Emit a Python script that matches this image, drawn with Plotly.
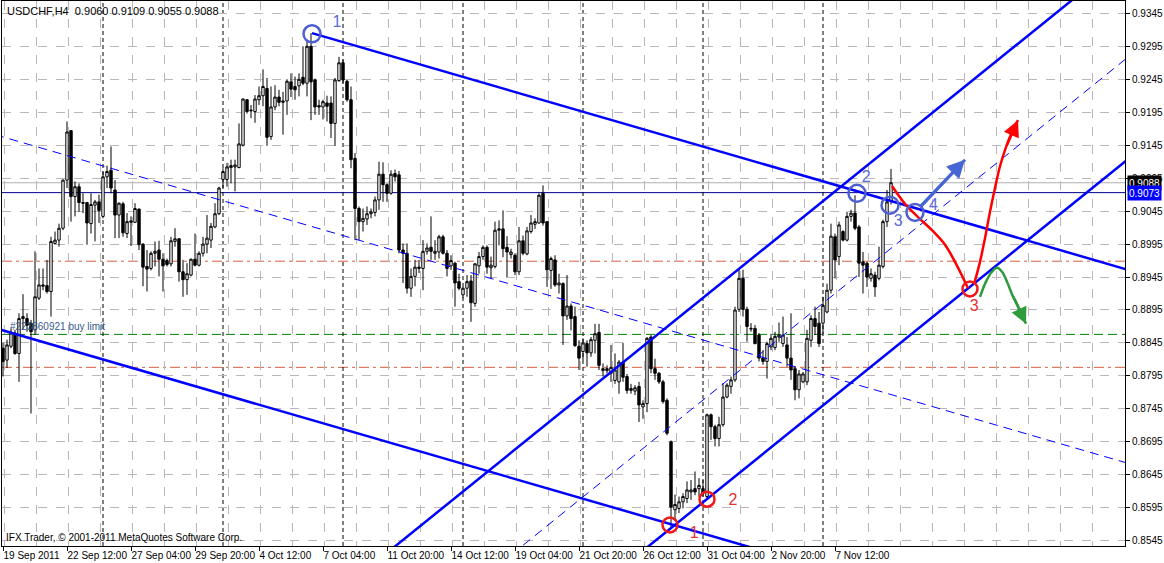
import plotly.graph_objects as go

# ---------------- data ----------------
title_text = "USDCHF,H4  0.9060 0.9109 0.9055 0.9088"
copyright_text = "IFX Trader, © 2001-2011 MetaQuotes Software Corp."
order_text = "#223860921 buy limit"

open_ = [0.8837,0.8819,0.8840,0.8860,0.8829,0.8882,0.8882,0.8875,0.8865,0.8913,
         0.8931,0.8932,0.8923,0.8996,0.9001,0.9019,0.9092,0.9167,0.9067,0.9082,
         0.9058,0.9058,0.9026,0.9054,0.9059,0.9037,0.9097,0.9107,0.9077,0.9039,
         0.9056,0.9011,0.9028,0.9028,0.9048,0.8995,0.8961,0.8958,0.8981,0.8986,
         0.8972,0.8970,0.8965,0.8999,0.9003,0.8953,0.8941,0.8948,0.8972,0.8963,
         0.8981,0.8995,0.9001,0.9021,0.9041,0.9093,0.9093,0.9111,0.9112,0.9111,
         0.9145,0.9214,0.9197,0.9196,0.9214,0.9220,0.9231,0.9158,0.9203,0.9218,
         0.9210,0.9212,0.9241,0.9234,0.9235,0.9248,0.9239,0.9295,0.9244,0.9205,
         0.9203,0.9209,0.9209,0.9178,0.9243,0.9270,0.9242,0.9214,0.9125,0.9049,
         0.9029,0.9033,0.9041,0.9043,0.9062,0.9101,0.9085,0.9072,0.9102,0.9100,
         0.8986,0.8981,0.8928,0.8946,0.8958,0.8958,0.8984,0.8990,0.8981,0.8983,
         0.9006,0.8981,0.8962,0.8966,0.8938,0.8918,0.8928,0.8939,0.8905,0.8962,
         0.8976,0.8990,0.8959,0.8961,0.9016,0.9018,0.8990,0.8979,0.8978,0.8953,
         0.9000,0.8980,0.9014,0.9025,0.9027,0.9072,0.9029,0.8955,0.8971,0.8933,
         0.8935,0.8886,0.8901,0.8885,0.8840,0.8832,0.8844,0.8830,0.8849,0.8861,
         0.8803,0.8803,0.8799,0.8788,0.8786,0.8816,0.8794,0.8773,0.8772,0.8779,
         0.8748,0.8753,0.8854,0.8806,0.8799,0.8786,0.8758,0.8695,0.8592,0.8594,
         0.8604,0.8609,0.8619,0.8624,0.8624,0.8624,0.8612,0.8736,0.8718,0.8700,
         0.8721,0.8763,0.8779,0.8789,0.8896,0.8943,0.8896,0.8866,0.8867,0.8857,
         0.8822,0.8817,0.8839,0.8838,0.8854,0.8844,0.8842,0.8822,0.8806,0.8774,
         0.8786,0.8786,0.8849,0.8882,0.8875,0.8875,0.8892,0.8925,0.9006,0.8976,
         0.9014,0.9001,0.9037,0.9042,0.9021,0.8968,0.8966,0.8943,0.8948,0.8943,
         0.8961,0.9029,0.9060]
high = [0.8845,0.8850,0.8867,0.8865,0.8890,0.8919,0.8890,0.8880,0.8984,0.8958,
        0.8958,0.8971,0.9006,0.9014,0.9026,0.9093,0.9181,0.9168,0.9090,0.9087,
        0.9072,0.9059,0.9072,0.9062,0.9070,0.9105,0.9114,0.9143,0.9092,0.9058,
        0.9059,0.9042,0.9037,0.9057,0.9049,0.8996,0.8986,0.8984,0.8999,0.9000,
        0.8981,0.8973,0.9006,0.9019,0.9004,0.8971,0.8966,0.8973,0.9011,0.8984,
        0.9006,0.9039,0.9027,0.9057,0.9082,0.9110,0.9118,0.9123,0.9123,0.9178,
        0.9216,0.9215,0.9206,0.9221,0.9234,0.9260,0.9247,0.9234,0.9236,0.9229,
        0.9226,0.9245,0.9254,0.9249,0.9254,0.9295,0.9305,0.9315,0.9246,0.9214,
        0.9214,0.9220,0.9219,0.9247,0.9279,0.9275,0.9244,0.9234,0.9133,0.9052,
        0.9049,0.9052,0.9049,0.9067,0.9120,0.9119,0.9087,0.9107,0.9108,0.9106,
        0.8996,0.8996,0.8958,0.8971,0.8971,0.9001,0.8996,0.9037,0.9001,0.9009,
        0.9009,0.8986,0.8978,0.8968,0.8950,0.8930,0.8948,0.8948,0.8966,0.8983,
        0.8993,0.8993,0.8976,0.9029,0.9031,0.9046,0.9007,0.8988,0.8981,0.9021,
        0.9008,0.9021,0.9039,0.9034,0.9072,0.9084,0.9030,0.8976,0.8978,0.8950,
        0.8937,0.8948,0.8905,0.8900,0.8849,0.8852,0.8849,0.8854,0.8874,0.8874,
        0.8814,0.8811,0.8842,0.8829,0.8819,0.8845,0.8798,0.8783,0.8781,0.8786,
        0.8758,0.8854,0.8857,0.8821,0.8801,0.8789,0.8761,0.8697,0.8615,0.8612,
        0.8617,0.8635,0.8637,0.8650,0.8640,0.8637,0.8738,0.8738,0.8721,0.8733,
        0.8784,0.8784,0.8794,0.8900,0.8958,0.8956,0.8900,0.8875,0.8872,0.8860,
        0.8834,0.8847,0.8859,0.8862,0.8876,0.8885,0.8854,0.8890,0.8809,0.8804,
        0.8801,0.8865,0.8887,0.8900,0.8892,0.8915,0.8935,0.9026,0.9011,0.9029,
        0.9016,0.9044,0.9047,0.9069,0.9024,0.8983,0.8968,0.8958,0.8953,0.8991,
        0.9032,0.9077,0.9109]
low = [0.8794,0.8807,0.8837,0.8827,0.8786,0.8865,0.8862,0.8738,0.8857,0.8910,
       0.8925,0.8920,0.8885,0.8994,0.8991,0.9016,0.9080,0.9029,0.9037,0.9044,
       0.9042,0.8994,0.9011,0.8999,0.9027,0.9034,0.9080,0.9072,0.9004,0.9004,
       0.9006,0.9004,0.8992,0.9027,0.8986,0.8931,0.8923,0.8955,0.8961,0.8946,
       0.8923,0.8961,0.8961,0.8991,0.8938,0.8915,0.8918,0.8946,0.8961,0.8961,
       0.8976,0.8981,0.8989,0.9019,0.9039,0.9080,0.9082,0.9087,0.9075,0.9110,
       0.9143,0.9193,0.9186,0.9179,0.9206,0.9204,0.9144,0.9153,0.9198,0.9204,
       0.9161,0.9191,0.9218,0.9214,0.9219,0.9236,0.9219,0.9183,0.9191,0.9191,
       0.9184,0.9181,0.9156,0.9144,0.9241,0.9239,0.9211,0.9110,0.9001,0.9001,
       0.9014,0.9024,0.9034,0.9037,0.9047,0.9059,0.9059,0.9070,0.9090,0.8981,
       0.8936,0.8920,0.8915,0.8931,0.8951,0.8925,0.8979,0.8971,0.8971,0.8973,
       0.8979,0.8946,0.8956,0.8900,0.8925,0.8913,0.8915,0.8877,0.8900,0.8950,
       0.8971,0.8950,0.8943,0.8958,0.8993,0.8975,0.8945,0.8973,0.8948,0.8948,
       0.8978,0.8978,0.9011,0.9018,0.9026,0.9023,0.8930,0.8927,0.8930,0.8920,
       0.8842,0.8880,0.8864,0.8839,0.8804,0.8819,0.8809,0.8824,0.8829,0.8804,
       0.8794,0.8799,0.8786,0.8783,0.8768,0.8786,0.8768,0.8768,0.8766,0.8725,
       0.8730,0.8740,0.8799,0.8789,0.8783,0.8753,0.8705,0.8566,0.8575,0.8587,
       0.8594,0.8602,0.8607,0.8614,0.8612,0.8612,0.8607,0.8698,0.8688,0.8688,
       0.8718,0.8761,0.8768,0.8786,0.8892,0.8885,0.8847,0.8862,0.8843,0.8817,
       0.8812,0.8791,0.8834,0.8834,0.8847,0.8839,0.8809,0.8789,0.8758,0.8761,
       0.8784,0.8781,0.8839,0.8857,0.8839,0.8859,0.8890,0.8920,0.8943,0.8963,
       0.8999,0.8999,0.9029,0.9016,0.8945,0.8920,0.8930,0.8938,0.8915,0.8940,
       0.8958,0.9021,0.9055]
close = [0.8817,0.8842,0.8860,0.8829,0.8882,0.8885,0.8872,0.8862,0.8915,0.8933,
         0.8933,0.8923,0.8999,0.9001,0.9019,0.9092,0.9165,0.9067,0.9082,0.9058,
         0.9057,0.9027,0.9055,0.9059,0.9046,0.9097,0.9105,0.9080,0.9039,0.9057,
         0.9012,0.9029,0.9030,0.9049,0.8994,0.8960,0.8957,0.8981,0.8984,0.8972,
         0.8962,0.8964,0.9000,0.9003,0.8953,0.8941,0.8950,0.8972,0.8963,0.8981,
         0.8995,0.9004,0.9022,0.9041,0.9080,0.9105,0.9112,0.9114,0.9115,0.9147,
         0.9215,0.9196,0.9198,0.9215,0.9220,0.9234,0.9157,0.9203,0.9218,0.9210,
         0.9212,0.9242,0.9230,0.9229,0.9245,0.9239,0.9295,0.9241,0.9203,0.9203,
         0.9211,0.9204,0.9178,0.9244,0.9270,0.9244,0.9214,0.9123,0.9049,0.9029,
         0.9034,0.9041,0.9044,0.9062,0.9101,0.9085,0.9072,0.9101,0.9097,0.8986,
         0.8981,0.8928,0.8946,0.8960,0.8960,0.8984,0.8989,0.8984,0.8984,0.9006,
         0.8981,0.8958,0.8970,0.8936,0.8928,0.8928,0.8938,0.8906,0.8965,0.8976,
         0.8990,0.8960,0.8963,0.9016,0.9018,0.8988,0.8983,0.8983,0.8953,0.9000,
         0.8981,0.9015,0.9027,0.9029,0.9069,0.9027,0.8956,0.8973,0.8933,0.8936,
         0.8886,0.8901,0.8882,0.8841,0.8822,0.8845,0.8830,0.8850,0.8859,0.8811,
         0.8806,0.8806,0.8808,0.8804,0.8816,0.8793,0.8773,0.8776,0.8777,0.8751,
         0.8753,0.8852,0.8806,0.8799,0.8786,0.8756,0.8708,0.8596,0.8600,0.8604,
         0.8612,0.8622,0.8622,0.8619,0.8629,0.8617,0.8736,0.8718,0.8700,0.8721,
         0.8763,0.8781,0.8789,0.8895,0.8943,0.8896,0.8870,0.8867,0.8844,0.8822,
         0.8817,0.8844,0.8852,0.8855,0.8857,0.8857,0.8822,0.8804,0.8774,0.8798,
         0.8798,0.8852,0.8882,0.8870,0.8844,0.8902,0.8925,0.9007,0.8971,0.9024,
         0.9001,0.9037,0.9042,0.9019,0.8966,0.8963,0.8945,0.8950,0.8930,0.8963,
         0.9029,0.9059,0.9088]
bars = list(range(len(open_)))

x_tick_bars = [0, 16, 32, 48, 64, 80, 96, 112, 128, 144, 160, 176, 192, 208]
x_tick_labels = ["19 Sep 2011", "22 Sep 12:00", "27 Sep 04:00", "29 Sep 20:00",
                 "4 Oct 12:00", "7 Oct 04:00", "11 Oct 20:00", "14 Oct 12:00",
                 "19 Oct 04:00", "21 Oct 20:00", "26 Oct 12:00", "31 Oct 04:00",
                 "2 Nov 20:00", "7 Nov 12:00"]
y_tick_values = [0.8545, 0.8595, 0.8645, 0.8695, 0.8745, 0.8795, 0.8845, 0.8895,
                 0.8945, 0.8995, 0.9045, 0.9095, 0.9145, 0.9195, 0.9245, 0.9295, 0.9345]
y_tick_labels = ["0.8545", "0.8595", "0.8645", "0.8695", "0.8745", "0.8795", "0.8845",
                 "0.8895", "0.8945", "0.8995", "0.9045", "0.9095", "0.9145", "0.9195",
                 "0.9245", "0.9295", "0.9345"]
week_separator_bars = [25, 55, 85, 115, 145, 175, 205]

bid_price = 0.9088
blue_level = 0.9073
buy_limit_price = 0.8858
stop_levels = [0.8969, 0.8808]

# descending channel (anchor = swing high 1)
desc_anchor_bar, desc_anchor_price = 77.25, 0.9315
desc_slope = -0.000176
desc_width = 0.0587
# rising channel
rise_anchor_bar, rise_anchor_price = 111.75, 0.86037
rise_slope = 0.0004896
rise_width = 0.0310

blue_circle_bars = [77.25, 213.5, 221.75, 228.0]
blue_circle_prices = [0.9314, 0.9072, 0.9054, 0.9043]
blue_label_text = ["1", "2", "3", "4"]
blue_label_bars = [83.5, 215.8, 223.8, 232.6]
blue_label_prices = [0.9331, 0.9095, 0.9029, 0.9053]

red_circle_bars = [166.75, 176.0, 241.75]
red_circle_prices = [0.8569, 0.8608, 0.8927]
red_label_text = ["1", "2", "3"]
red_label_bars = [172.8, 182.5, 242.8]
red_label_prices = [0.8555, 0.8606, 0.8900]

red_down_bars = [222.25, 225.5, 228.75, 232.25, 235.5, 238.0, 240.0, 241.25]
red_down_prices = [0.9083, 0.9056, 0.9036, 0.9016, 0.8994, 0.8968, 0.8944, 0.8928]
red_up_bars = [242.75, 244.25, 245.5, 246.75, 248.0, 249.25, 250.75, 252.25, 253.75]
red_up_prices = [0.8934, 0.8968, 0.9004, 0.9044, 0.9080, 0.9113, 0.9142, 0.9165, 0.9183]
green_bars = [244.25, 245.75, 247.25, 248.5, 249.75, 251.0, 252.25, 253.75, 255.75]
green_prices = [0.8915, 0.8938, 0.8953, 0.8959, 0.8953, 0.8938, 0.8919, 0.8901, 0.8874]
blue_arrow_bars = [229.25, 240.5]
blue_arrow_prices = [0.9051, 0.9123]

# ---------------- figure ----------------
X_MIN, X_MAX = -0.25, 280.5
Y_MIN, Y_MAX = 0.85370, 0.93637
LINE_BLUE = "#0000FF"
FONT = "Liberation Sans"

fig = go.Figure()

shapes = []
for lv in stop_levels:
    shapes.append(dict(type="line", xref="paper", x0=0, x1=1, yref="y", y0=lv, y1=lv,
                       line=dict(color="#D86040", width=1, dash="10px,4px,3px,4px"), layer="below"))
shapes.append(dict(type="line", xref="paper", x0=0, x1=1, yref="y", y0=buy_limit_price,
                   y1=buy_limit_price, line=dict(color="#008000", width=1, dash="9px,5px"),
                   layer="below"))
shapes.append(dict(type="line", xref="paper", x0=0, x1=1, yref="y", y0=bid_price, y1=bid_price,
                   line=dict(color="#B0B0B0", width=1), layer="below"))
shapes.append(dict(type="line", xref="paper", x0=0, x1=1, yref="y", y0=blue_level, y1=blue_level,
                   line=dict(color="#00008C", width=1), layer="below"))
for b in week_separator_bars:
    shapes.append(dict(type="line", xref="x", x0=b, x1=b, yref="paper", y0=0, y1=1,
                       line=dict(color="black", width=1, dash="4px,3px"), layer="below"))
fig.update_layout(shapes=shapes)

fig.add_trace(go.Candlestick(
    x=bars, open=open_, high=high, low=low, close=close,
    increasing=dict(line=dict(color="black", width=1), fillcolor="white"),
    decreasing=dict(line=dict(color="black", width=1), fillcolor="black"),
    whiskerwidth=0, showlegend=False, hoverinfo="skip"))


def desc_line(offset, b0, b1):
    return ([b0, b1], [desc_anchor_price + desc_slope * (b0 - desc_anchor_bar) - offset,
                       desc_anchor_price + desc_slope * (b1 - desc_anchor_bar) - offset])


xs, ys = desc_line(0, desc_anchor_bar, X_MAX + 1)
fig.add_trace(go.Scatter(x=xs, y=ys, mode="lines", line=dict(color=LINE_BLUE, width=2.5),
                         showlegend=False, hoverinfo="skip"))
xs, ys = desc_line(desc_width / 2, -2, X_MAX + 1)
fig.add_trace(go.Scatter(x=xs, y=ys, mode="lines", line=dict(color=LINE_BLUE, width=1, dash="9px,6px"),
                         showlegend=False, hoverinfo="skip"))
xs, ys = desc_line(desc_width, -2, X_MAX + 1)
fig.add_trace(go.Scatter(x=xs, y=ys, mode="lines", line=dict(color=LINE_BLUE, width=2.5),
                         showlegend=False, hoverinfo="skip"))


def rise_line(offset, b0, b1):
    return ([b0, b1], [rise_anchor_price + rise_slope * (b0 - rise_anchor_bar) - offset,
                       rise_anchor_price + rise_slope * (b1 - rise_anchor_bar) - offset])


for off, w, d in [(0, 2.5, "solid"), (rise_width / 2, 1, "9px,6px"), (rise_width, 2.5, "solid")]:
    xs, ys = rise_line(off, 60, X_MAX + 1)
    fig.add_trace(go.Scatter(x=xs, y=ys, mode="lines", line=dict(color=LINE_BLUE, width=w, dash=d),
                             showlegend=False, hoverinfo="skip"))

fig.add_trace(go.Scatter(x=red_down_bars, y=red_down_prices, mode="lines",
                         line=dict(color="#FF0000", width=2.5, shape="spline"),
                         showlegend=False, hoverinfo="skip"))
fig.add_trace(go.Scatter(x=red_up_bars, y=red_up_prices, mode="lines",
                         line=dict(color="#FF0000", width=2.5, shape="spline"),
                         showlegend=False, hoverinfo="skip"))
fig.add_trace(go.Scatter(x=green_bars, y=green_prices, mode="lines",
                         line=dict(color="#2E9B3C", width=2.5, shape="spline"),
                         showlegend=False, hoverinfo="skip"))
fig.add_trace(go.Scatter(x=blue_arrow_bars, y=blue_arrow_prices, mode="lines",
                         line=dict(color="#4666D6", width=3),
                         showlegend=False, hoverinfo="skip"))

fig.add_trace(go.Scatter(x=blue_circle_bars, y=blue_circle_prices, mode="markers",
                         marker=dict(symbol="circle-open", size=17, color="#4E5FD0",
                                     line=dict(width=2.5, color="#4E5FD0")),
                         showlegend=False, hoverinfo="skip"))
fig.add_trace(go.Scatter(x=red_circle_bars, y=red_circle_prices, mode="markers",
                         marker=dict(symbol="circle-open", size=15, color="#F01818",
                                     line=dict(width=2.5, color="#F01818")),
                         showlegend=False, hoverinfo="skip"))
fig.add_trace(go.Scatter(x=blue_label_bars, y=blue_label_prices, mode="text", text=blue_label_text,
                         textfont=dict(family=FONT, size=16, color="#5A6CD8"),
                         showlegend=False, hoverinfo="skip"))
fig.add_trace(go.Scatter(x=red_label_bars, y=red_label_prices, mode="text", text=red_label_text,
                         textfont=dict(family=FONT, size=16, color="#E83030"),
                         showlegend=False, hoverinfo="skip"))

fig.add_trace(go.Scatter(x=[0], y=[None], xaxis="x2", yaxis="y", showlegend=False,
                         hoverinfo="skip"))

annotations = [
    dict(xref="paper", yref="paper", x=0, y=1, xanchor="left", yanchor="top", xshift=3, yshift=-2,
         text=title_text, showarrow=False, font=dict(family=FONT, size=11, color="black")),
    dict(xref="paper", yref="paper", x=0, y=0, xanchor="left", yanchor="bottom", xshift=2, yshift=1,
         text=copyright_text, showarrow=False, font=dict(family=FONT, size=10, color="black")),
    dict(xref="paper", yref="y", x=0, y=buy_limit_price, xanchor="left", yanchor="bottom", xshift=6,
         yshift=0, text=order_text, showarrow=False,
         font=dict(family=FONT, size=10, color="#3A5A8A")),
    dict(xref="paper", yref="y", x=1, y=bid_price, xanchor="left", yanchor="middle", xshift=2,
         text="0.9088", showarrow=False, bgcolor="black", width=31, height=12,
         font=dict(family=FONT, size=10, color="white")),
    dict(xref="paper", yref="y", x=1, y=blue_level, xanchor="left", yanchor="middle", xshift=2,
         text="0.9073", showarrow=False, bgcolor="#0000FF", width=31, height=12,
         font=dict(family=FONT, size=10, color="white")),
    dict(x=red_up_bars[-1], y=red_up_prices[-1], ax=red_up_bars[-3], ay=red_up_prices[-3],
         xref="x", yref="y", axref="x", ayref="y", showarrow=True, arrowhead=2, arrowsize=1.3,
         arrowwidth=2.5, arrowcolor="#FF0000", text=""),
    dict(x=green_bars[-1], y=green_prices[-1], ax=green_bars[-3], ay=green_prices[-3],
         xref="x", yref="y", axref="x", ayref="y", showarrow=True, arrowhead=2, arrowsize=1.3,
         arrowwidth=2.5, arrowcolor="#2E9B3C", text=""),
    dict(x=blue_arrow_bars[-1], y=blue_arrow_prices[-1], ax=blue_arrow_bars[0], ay=blue_arrow_prices[0],
         xref="x", yref="y", axref="x", ayref="y", showarrow=True, arrowhead=2, arrowsize=1.2,
         arrowwidth=3, arrowcolor="#4666D6", text=""),
]

fig.update_layout(
    width=1164, height=563,
    margin=dict(l=2, r=39, t=1, b=17, autoexpand=False),
    paper_bgcolor="white", plot_bgcolor="white",
    showlegend=False,
    boxgap=0.15,
    annotations=annotations,
    xaxis=dict(range=[X_MIN, X_MAX], rangeslider=dict(visible=False), automargin=False,
               tickmode="linear", tick0=0.25, dtick=8, showticklabels=False, ticks="",
               showgrid=True, gridcolor="#BDB5BD", griddash="dash", gridwidth=1,
               zeroline=False, showline=True, linecolor="black", linewidth=1, mirror=True),
    xaxis2=dict(overlaying="x", matches="x", side="bottom", anchor="y", automargin=False,
                tickmode="array", tickvals=x_tick_bars, ticktext=x_tick_labels, tickangle=0,
                ticks="outside", ticklen=4, tickcolor="black", showgrid=False, zeroline=False,
                ticklabelposition="outside right", ticklabeloverflow="allow",
                tickfont=dict(family=FONT, size=10, color="black")),
    yaxis=dict(range=[Y_MIN, Y_MAX], side="right", tickmode="array", automargin=False,
               tickvals=y_tick_values, ticktext=y_tick_labels,
               ticks="outside", ticklen=4, tickcolor="black",
               showgrid=True, gridcolor="#BDB5BD", griddash="dash", gridwidth=1,
               zeroline=False, showline=True, linecolor="black", linewidth=1, mirror=True,
               tickfont=dict(family=FONT, size=10, color="black")),
)

fig.write_html("out.html", config={"displayModeBar": False},
               post_script="document.body.style.margin='0px';document.body.style.overflow='hidden';")
